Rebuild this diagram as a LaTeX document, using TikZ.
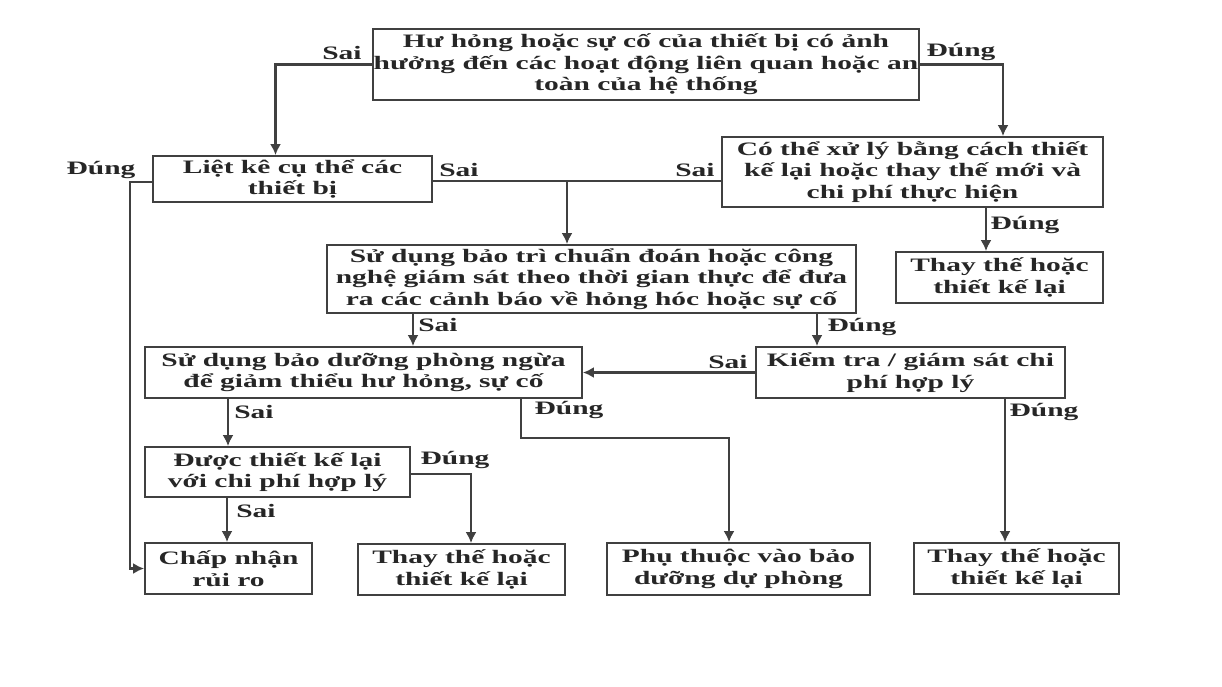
\documentclass[tikz,border=0pt]{standalone}
\usepackage{fontspec}
\setmainfont{Liberation Serif}[FakeStretch=1.55]
\usetikzlibrary{arrows.meta}
\tikzset{
  hop/.style={draw=black!75, line width=1.8pt, align=center, inner sep=0pt,
    font=\bfseries\fontsize{19}{21.5}\selectfont, text=black!85},
  nhan/.style={font=\bfseries\fontsize{19}{21.5}\selectfont, text=black!85, inner sep=0pt},
  ketnoi/.style={draw=black!75, line width=2.2pt},
  muiten/.style={ketnoi, -{Latex[length=11pt,width=11pt]}}
}
\begin{document}
\begin{tikzpicture}[x=1pt,y=-1pt]
\useasboundingbox (0,0) rectangle (1222,686);
\fill[white] (0,0) rectangle (1222,686);
% cac hop
\node[hop, minimum width=546pt, minimum height=71pt] (hu) at (646,64.5) {Hư hỏng hoặc sự cố của thiết bị có ảnh\\hưởng đến các hoạt động liên quan hoặc an\\toàn của hệ thống};
\node[hop, minimum width=279pt, minimum height=46pt] (liet) at (292.5,179) {Liệt kê cụ thể các\\thiết bị};
\node[hop, minimum width=381pt, minimum height=70pt] (cothe) at (912.5,172) {Có thể xử lý bằng cách thiết\\kế lại hoặc thay thế mới và\\chi phí thực hiện};
\node[hop, minimum width=207pt, minimum height=51pt] (tt1) at (999.5,277.5) {Thay thế hoặc\\thiết kế lại};
\node[hop, minimum width=529pt, minimum height=68pt] (baotri) at (591.5,279) {Sử dụng bảo trì chuẩn đoán hoặc công\\nghệ giám sát theo thời gian thực để đưa\\ra các cảnh báo về hỏng hóc hoặc sự cố};
\node[hop, minimum width=437pt, minimum height=51pt] (baoduong) at (363.5,372.5) {Sử dụng bảo dưỡng phòng ngừa\\để giảm thiểu hư hỏng, sự cố};
\node[hop, minimum width=309pt, minimum height=51pt] (kiemtra) at (910.5,372.5) {Kiểm tra / giám sát chi\\phí hợp lý};
\node[hop, minimum width=265pt, minimum height=50pt] (duoc) at (277.5,472) {Được thiết kế lại\\với chi phí hợp lý};
\node[hop, minimum width=167pt, minimum height=51pt] (chapnhan) at (228.5,568.5) {Chấp nhận\\rủi ro};
\node[hop, minimum width=207pt, minimum height=51pt] (tt2) at (461.5,569.5) {Thay thế hoặc\\thiết kế lại};
\node[hop, minimum width=263pt, minimum height=52pt] (phuthuoc) at (738.5,569) {Phụ thuộc vào bảo\\dưỡng dự phòng};
\node[hop, minimum width=205pt, minimum height=51pt] (tt3) at (1016.5,568.5) {Thay thế hoặc\\thiết kế lại};
% cac diem re
\coordinate (c1) at ([xshift=73.5pt]cothe.south);
\coordinate (c2) at ([xshift=-178.5pt]baotri.south);
\coordinate (c3) at ([xshift=225.5pt]baotri.south);
\coordinate (c4) at ([xshift=94.5pt]kiemtra.south);
\coordinate (c5) at ([xshift=-135.5pt]baoduong.south);
\coordinate (c6) at ([xshift=157.5pt]baoduong.south);
\coordinate (c7) at ([xshift=-50.5pt]duoc.south);
\coordinate (re1) at (567,181);
\coordinate (re2) at (729,438);
\coordinate (re3) at (130,568.5);
% cac duong noi
\draw[muiten] (hu.west) -| ([xshift=-17pt]liet.north);
\draw[muiten] (hu.east) -| ([xshift=90.5pt]cothe.north);
\draw[ketnoi] ([yshift=-2pt]liet.east) -- ([yshift=-2pt]liet.east -| cothe.west);
\draw[muiten] (re1) -- (re1 |- baotri.north);
\draw[muiten] (c1) -- (c1 |- tt1.north);
\draw[muiten] (c2) -- (c2 |- baoduong.north);
\draw[muiten] (c3) -- (c3 |- kiemtra.north);
\draw[muiten] (kiemtra.west) -- (kiemtra.west -| baoduong.east);
\draw[muiten] (c4) -- (c4 |- tt3.north);
\draw[muiten] (c5) -- (c5 |- duoc.north);
\draw[muiten] (c6) |- (re2) -- (re2 |- phuthuoc.north);
\draw[muiten] ([yshift=-2pt]duoc.east) -| ([xshift=9.5pt]tt2.north);
\draw[muiten] (c7) -- (c7 |- chapnhan.north);
\draw[muiten] ([yshift=-3pt]liet.west) -| (re3) -- (chapnhan.west);
% nhan
\node[nhan] (n1) at (342,53) {Sai};
\node[nhan] (n2) at (961,52) {Đúng};
\node[nhan] (n3) at (101,170) {Đúng};
\node[nhan] (n4) at (459,170) {Sai};
\node[nhan] (n5) at (695,170) {Sai};
\node[nhan] (n6) at (1025,225) {Đúng};
\node[nhan] (n7) at (438,325) {Sai};
\node[nhan] (n8) at (862,327) {Đúng};
\node[nhan] (n9) at (728,362) {Sai};
\node[nhan] (n10) at (1044,412) {Đúng};
\node[nhan] (n11) at (254,412) {Sai};
\node[nhan] (n12) at (569,410) {Đúng};
\node[nhan] (n13) at (455,460) {Đúng};
\node[nhan] (n14) at (256,511) {Sai};
\end{tikzpicture}
\end{document}
